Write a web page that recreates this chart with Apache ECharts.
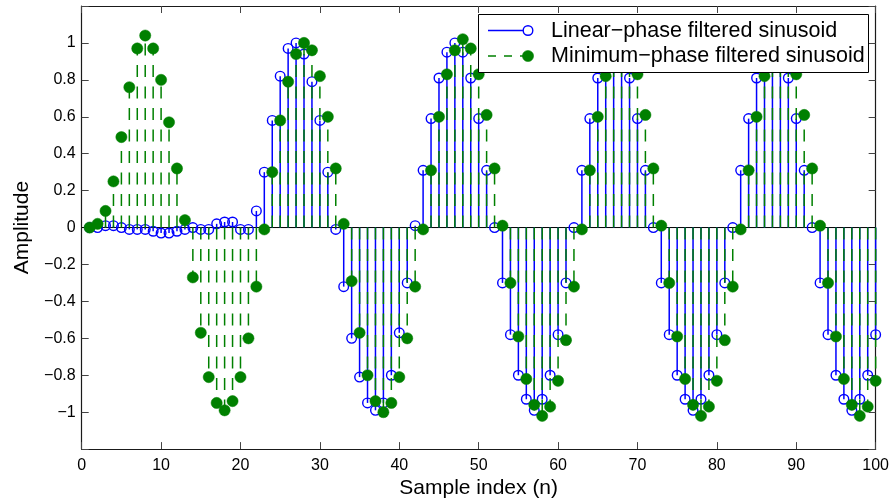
<!DOCTYPE html>
<html><head><meta charset="utf-8">
<script src="https://cdn.jsdelivr.net/npm/echarts@6/dist/echarts.min.js"></script>
<style>html,body{margin:0;padding:0;background:#fff}#c{width:892px;height:504px}</style>
</head><body><div id="c"></div>
<script>
// Sample index n = 1..100
const sampleIndex = Array.from({length: 100}, (_, i) => i + 1);

// Linear-phase filtered sinusoid
const linearPhase = [
  0.00, 0.00, 0.01, 0.01, 0.00, -0.01, -0.01, -0.01, -0.02, -0.03,
  -0.03, -0.02, -0.01, 0.00, -0.01, -0.01, 0.02, 0.03, 0.03, -0.01,
  -0.01, 0.09, 0.30, 0.58, 0.82, 0.97, 1.00, 0.94, 0.79, 0.58,
  0.30, -0.01, -0.32, -0.60, -0.81, -0.95, -0.99, -0.95, -0.80, -0.57,
  -0.30, 0.01, 0.31, 0.59, 0.81, 0.95, 1.00, 0.95, 0.81, 0.59,
  0.31, 0.00, -0.30, -0.58, -0.80, -0.93, -0.99, -0.93, -0.80, -0.58,
  -0.30, 0.00, 0.31, 0.59, 0.81, 0.95, 1.00, 0.95, 0.81, 0.59,
  0.31, 0.00, -0.30, -0.58, -0.80, -0.93, -0.99, -0.93, -0.80, -0.58,
  -0.30, 0.00, 0.31, 0.59, 0.81, 0.95, 1.00, 0.95, 0.81, 0.59,
  0.31, 0.00, -0.30, -0.58, -0.80, -0.93, -0.99, -0.93, -0.80, -0.58
];

// Minimum-phase filtered sinusoid
const minimumPhase = [
  0.00, 0.02, 0.09, 0.25, 0.49, 0.76, 0.97, 1.04, 0.97, 0.80,
  0.57, 0.32, 0.04, -0.27, -0.57, -0.81, -0.95, -0.99, -0.94, -0.81,
  -0.60, -0.32, -0.01, 0.30, 0.58, 0.79, 0.94, 1.00, 0.96, 0.82,
  0.60, 0.32, 0.02, -0.29, -0.57, -0.80, -0.94, -1.00, -0.95, -0.81,
  -0.60, -0.32, -0.01, 0.31, 0.60, 0.83, 0.96, 1.02, 0.97, 0.83,
  0.61, 0.32, 0.01, -0.30, -0.59, -0.82, -0.96, -1.02, -0.97, -0.83,
  -0.61, -0.32, -0.01, 0.31, 0.60, 0.82, 0.96, 1.02, 0.97, 0.83,
  0.61, 0.32, 0.01, -0.30, -0.59, -0.82, -0.96, -1.02, -0.97, -0.83,
  -0.61, -0.32, -0.01, 0.31, 0.60, 0.82, 0.96, 1.02, 0.97, 0.83,
  0.61, 0.32, 0.01, -0.30, -0.59, -0.82, -0.96, -1.02, -0.97, -0.83
];

const seriesNames = ['Linear\u2212phase filtered sinusoid', 'Minimum\u2212phase filtered sinusoid'];
const xTitle = 'Sample index (n)';
const yTitle = 'Amplitude';
const xRange = [0, 100, 10];
const yRange = [-1.2, 1.2, 0.2];

const FONT = "'Liberation Sans', Arial, Helvetica, sans-serif";
const BLUE = '#0000ff';
const GREEN = '#008000';

function stemRenderer(color, dash, filled, r) {
  return function (params, api) {
    const x = api.value(0), y = api.value(1);
    const p0 = api.coord([x, 0]);
    const p1 = api.coord([x, y]);
    return {
      type: 'group',
      children: [
        { type: 'line', shape: { x1: p0[0], y1: p0[1], x2: p1[0], y2: p1[1] },
          style: { stroke: color, lineWidth: 1.5, lineDash: dash } },
        { type: 'circle', shape: { cx: p1[0], cy: p1[1], r: r },
          style: filled ? { fill: color, stroke: color, lineWidth: 0.5 }
                        : { fill: 'none', stroke: color, lineWidth: 1.4 } }
      ]
    };
  };
}

function yFmt(v) {
  if (Math.abs(v) > 1.1) return '';
  const a = Math.round(Math.abs(v) * 10) / 10;
  if (a === 0) return '0';
  return (v < 0 ? '\u2212' : '') + a;
}

const axisLineStyle = { show: true, lineStyle: { color: '#1a1a1a', width: 1.2 } };
const tickStyle = { show: true, inside: true, length: 7, lineStyle: { color: '#444', width: 1 } };

const option = {
  animation: false,
  backgroundColor: '#fff',
  grid: { left: 81.7, right: 15.3, top: 6, bottom: 54.5, containLabel: false },
  xAxis: [
    { type: 'value', min: xRange[0], max: xRange[1], interval: xRange[2], position: 'bottom',
      axisLine: Object.assign({ onZero: false }, axisLineStyle), axisTick: tickStyle,
      splitLine: { show: false },
      axisLabel: { color: '#000', fontSize: 16, fontFamily: FONT, margin: 8 },
      name: xTitle, nameLocation: 'middle', nameGap: 27,
      nameTextStyle: { color: '#000', fontSize: 21, fontFamily: FONT } },
    { type: 'value', min: xRange[0], max: xRange[1], interval: xRange[2], position: 'top',
      axisLine: Object.assign({ onZero: false }, axisLineStyle), axisTick: tickStyle,
      splitLine: { show: false }, axisLabel: { show: false } }
  ],
  yAxis: [
    { type: 'value', min: yRange[0], max: yRange[1], interval: yRange[2], position: 'left',
      axisLine: Object.assign({ onZero: false }, axisLineStyle), axisTick: tickStyle,
      splitLine: { show: false },
      axisLabel: { color: '#000', fontSize: 16, fontFamily: FONT, margin: 6, formatter: yFmt },
      name: yTitle, nameLocation: 'middle', nameGap: 49,
      nameTextStyle: { color: '#000', fontSize: 21, fontFamily: FONT } },
    { type: 'value', min: yRange[0], max: yRange[1], interval: yRange[2], position: 'right',
      axisLine: Object.assign({ onZero: false }, axisLineStyle), axisTick: tickStyle,
      splitLine: { show: false }, axisLabel: { show: false } }
  ],
  series: [
    { type: 'line', name: 'baseline', data: [[xRange[0], 0], [xRange[1], 0]],
      symbol: 'none', silent: true, lineStyle: { color: '#000', width: 1 }, z: 1 },
    { type: 'custom', name: seriesNames[0], renderItem: stemRenderer(BLUE, null, false, 4.8),
      data: sampleIndex.map((n, i) => [n, linearPhase[i]]), encode: { x: 0, y: 1 }, z: 2 },
    { type: 'custom', name: seriesNames[1], renderItem: stemRenderer(GREEN, [12, 9.5], true, 5.6),
      data: sampleIndex.map((n, i) => [n, minimumPhase[i]]), encode: { x: 0, y: 1 }, z: 3 }
  ],
  graphic: [
    { type: 'rect', z: 100, shape: { x: 478.5, y: 14.5, width: 390, height: 58 },
      style: { fill: '#fff', stroke: '#000', lineWidth: 1 } },
    { type: 'line', z: 101, shape: { x1: 488, y1: 30.5, x2: 528, y2: 30.5 },
      style: { stroke: BLUE, lineWidth: 1.5 } },
    { type: 'circle', z: 102, shape: { cx: 528, cy: 30.5, r: 4.8 },
      style: { fill: '#fff', stroke: BLUE, lineWidth: 1.4 } },
    { type: 'text', z: 101, x: 551, y: 31,
      style: { text: seriesNames[0], fill: '#000', fontSize: 21.5, fontFamily: FONT, verticalAlign: 'middle', align: 'left' } },
    { type: 'line', z: 101, shape: { x1: 488, y1: 56, x2: 528, y2: 56 },
      style: { stroke: GREEN, lineWidth: 1.5, lineDash: [8, 8] } },
    { type: 'circle', z: 102, shape: { cx: 528, cy: 56, r: 5.6 },
      style: { fill: GREEN, stroke: GREEN, lineWidth: 0.5 } },
    { type: 'text', z: 101, x: 551, y: 56.5,
      style: { text: seriesNames[1], fill: '#000', fontSize: 21.5, fontFamily: FONT, verticalAlign: 'middle', align: 'left' } }
  ]
};

const chart = echarts.init(document.getElementById('c'), null, { renderer: 'canvas' });
chart.setOption(option);
</script>
</body></html>
